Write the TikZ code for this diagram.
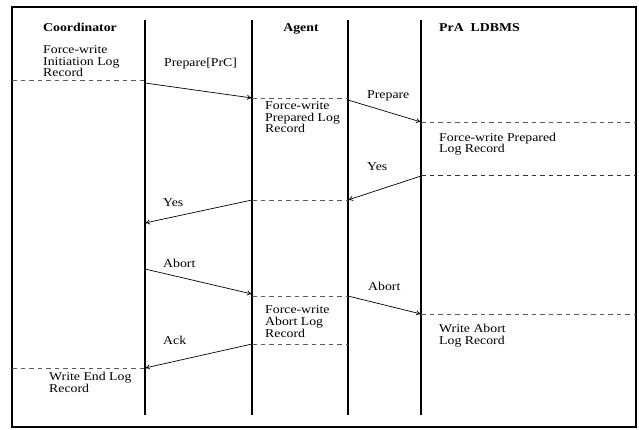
\documentclass[tikz,border=0pt]{standalone}
\usepackage{fontspec}
\setmainfont{Liberation Serif}[FakeStretch=1.15]
\usetikzlibrary{arrows.meta}
\begin{document}
\begin{tikzpicture}[x=1pt,y=-1pt,
  lbl/.style={anchor=base west,inner sep=0pt,align=left,font=\fontsize{12}{11.6}\selectfont},
  hdr/.style={anchor=base west,inner sep=0pt,font=\fontsize{12}{12}\selectfont\bfseries},
  life/.style={line width=1.6pt},
  logline/.style={draw=black!65,line width=0.8pt,dash pattern=on 4.5pt off 4pt},
  msg/.style={line width=0.7pt,-{To[length=5pt,width=5pt]}}]
\useasboundingbox (0,0) rectangle (639,430);
\draw[draw=black,line width=1.6pt] (12,7) -- (636,7) -- (636,427) -- (12,427) -- cycle;
% lifelines
\draw[life] (145,20) -- (145,415);
\draw[life] (252,20) -- (252,415);
\draw[life] (348,20) -- (348,415);
\draw[life] (421,20) -- (421,415);
% headers
\node[hdr] (hc) at (43,32) {Coordinator};
\node[hdr,anchor=base] (ha) at (301,32) {Agent};
\node[hdr] (hp) at (439,32) {PrA\ \ LDBMS};
% coordinates
\coordinate (c1) at (145,83);
\coordinate (a1) at (252,98);
\coordinate (a1b) at (348,100);
\coordinate (p1) at (421,122);
\coordinate (p2) at (421,176);
\coordinate (a2b) at (348,200);
\coordinate (a2) at (252,200);
\coordinate (c2) at (145,223);
\coordinate (c3) at (145,269);
\coordinate (a3) at (252,294);
\coordinate (a3b) at (348,296);
\coordinate (p3) at (421,314);
\coordinate (a4) at (252,344);
\coordinate (c4) at (145,368);
% log lines
\draw[logline] (12,80) -- (145,80);
\draw[logline] (a1) -- (348,98);
\draw[logline] (p1) -- (636,122);
\draw[logline,draw=black!80,line width=1pt] (p2) -- (636,176);
\draw[logline] (a2) -- (348,200);
\draw[logline] (252,296) -- (a3b);
\draw[logline] (p3) -- (636,314);
\draw[logline] (a4) -- (348,344);
\draw[logline] (12,368) -- (c4);
% messages
\draw[msg] (c1) -- (a1);
\draw[msg] (a1b) -- (p1);
\draw[msg] (p2) -- (a2b);
\draw[msg] (a2) -- (c2);
\draw[msg] (c3) -- (a3);
\draw[msg] (a3b) -- (p3);
\draw[msg] (a4) -- (c4);
% message labels
\node[lbl] (m1) at (164,67) {Prepare[PrC]};
\node[lbl] (m2) at (367,99) {Prepare};
\node[lbl] (m3) at (367,171) {Yes};
\node[lbl] (m4) at (163,207) {Yes};
\node[lbl] (m5) at (163,267) {Abort};
\node[lbl] (m6) at (368,290) {Abort};
\node[lbl] (m7) at (163,344) {Ack};
% log labels (base = last line)
\node[lbl] (l1) at (43,77) {Force-write\\Initiation Log\\Record};
\node[lbl] (l2) at (265,133) {Force-write\\Prepared Log\\Record};
\node[lbl] (l3) at (439,153) {Force-write Prepared\\Log Record};
\node[lbl] (l4) at (265,337) {Force-write\\Abort Log\\Record};
\node[lbl] (l5) at (439,344) {Write Abort\\Log Record};
\node[lbl] (l6) at (49,392) {Write End Log\\Record};
\end{tikzpicture}
\end{document}
